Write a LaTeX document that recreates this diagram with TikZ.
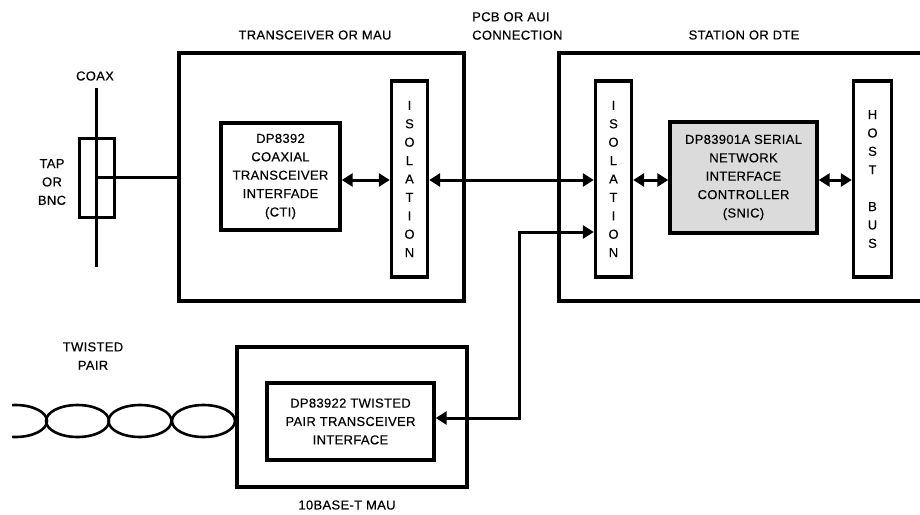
\documentclass[tikz,border=0pt]{standalone}
\usepackage{fontspec}
\setmainfont{Liberation Sans}[LetterSpace=2.5,FakeBold=0.35]
\usepackage{tikz}
\usetikzlibrary{positioning,arrows.meta}
\tikzset{
  txt/.style={font=\fontsize{13}{18.4}\selectfont,align=center,inner sep=0pt},
  blk/.style={draw,line width=3.4pt,txt},
  wire/.style={line width=3pt},
  arr/.style={-{Triangle[length=11pt,width=13pt]},line width=3pt},
  dblarr/.style={{Triangle[length=11pt,width=13pt]}-{Triangle[length=11pt,width=13pt]},line width=3pt}
}

\begin{document}
\begin{tikzpicture}[x=1pt,y=-1pt]
\useasboundingbox (0,0) rectangle (920,514);
% outer blocks
\node[blk,minimum width=285pt,minimum height=248pt] (mau) at (321.5,177) {};
\node[blk,minimum width=376pt,minimum height=248pt] (station) at (747,177) {};
\node[blk,minimum width=230pt,minimum height=140pt] (tpmau) at (352,417) {};
% inner blocks
\node[blk,line width=3pt,minimum width=35pt,minimum height=79pt] (tap) at (96.5,177.5) {};
\node[blk,minimum width=119pt,minimum height=107pt] (cti) at (280.5,176.5) {DP8392\\COAXIAL\\TRANSCEIVER\\INTERFADE\\(CTI)};
\node[blk,minimum width=36pt,minimum height=196pt] (isoA) at (409.5,179) {I\\S\\O\\L\\A\\T\\I\\O\\N};
\node[blk,minimum width=36pt,minimum height=196pt] (isoB) at (613.5,179) {I\\S\\O\\L\\A\\T\\I\\O\\N};
\node[blk,fill=black!14,minimum width=147pt,minimum height=111pt] (snic) at (743.5,177.5) {DP83901A SERIAL\\NETWORK\\INTERFACE\\CONTROLLER\\(SNIC)};
\node[blk,minimum width=38pt,minimum height=196pt] (host) at (872.5,179) {H\\O\\S\\T\\[18.4pt]B\\U\\S};
\node[blk,minimum width=167pt,minimum height=77pt] (tpi) at (350.5,421.5) {DP83922 TWISTED\\PAIR TRANSCEIVER\\INTERFACE};
% labels
\node[txt] (maulbl) at (315,35) {TRANSCEIVER OR MAU};
\node[txt] (stalbl) at (744,35) {STATION OR DTE};
\node[txt,align=left,anchor=west] (auilbl) at (472,26) {PCB OR AUI\\CONNECTION};
\node[txt] (coaxlbl) at (95,76) {COAX};
\node[txt] (taplbl) at (52,182) {TAP\\OR\\BNC};
\node[txt] (tplbl) at (93,356) {TWISTED\\PAIR};
\node[txt] (baselbl) at (347,505) {10BASE-T MAU};
% coax and twisted pair
\coordinate (coaxtop) at (96,88);
\coordinate (coaxbot) at (96,267);
\draw[wire] (coaxtop) -- (coaxbot);
\draw[wire] (tap.center) -- (tap.center -| mau.west);
\begin{scope}
  \clip (12,395) rectangle (240,447);
  \foreach \cx in {15.5,77.5,140,203.5}
    \draw[line width=2.6pt] (\cx,421) ellipse [x radius=31.5pt,y radius=16pt];
\end{scope}
% data paths
\coordinate (busy) at (0,180);
\coordinate (jog) at (519,232);
\coordinate (tpy) at (0,418);
\draw[dblarr] (cti.east |- busy) -- (isoA.west |- busy);
\draw[dblarr] (isoA.east |- busy) -- (isoB.west |- busy);
\draw[dblarr] (isoB.east |- busy) -- (snic.west |- busy);
\draw[dblarr] (snic.east |- busy) -- (host.west |- busy);
\draw[dblarr] (tpi.east |- tpy) -| (jog) -- (isoB.west |- jog);
\end{tikzpicture}
\end{document}
